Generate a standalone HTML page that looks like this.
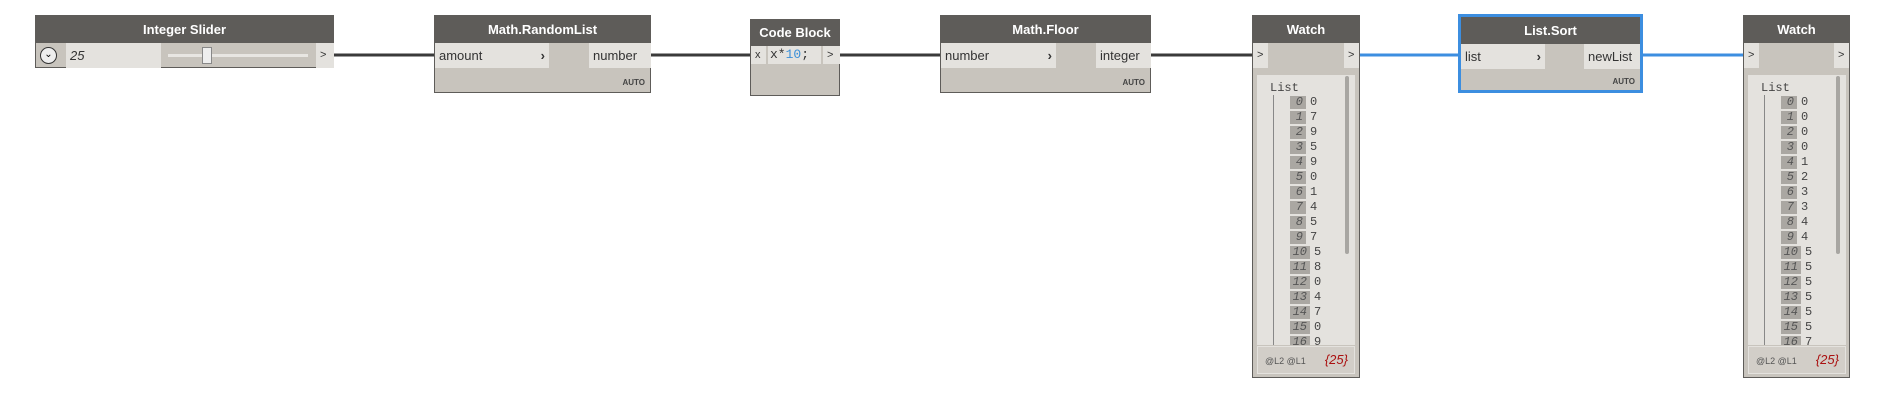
<!DOCTYPE html>
<html><head><meta charset="utf-8"><style>
*{box-sizing:border-box;margin:0;padding:0}
body{width:1886px;height:418px;background:#fff;position:relative;overflow:hidden;font-family:"Liberation Sans",sans-serif}
.node{position:absolute;background:#c8c4bd;border:1px solid #5e5c59}
.hdr{position:absolute;left:0;right:0;top:0;background:#5e5c59;color:#fff;font-weight:bold;font-size:13px;text-align:center}
.box{position:absolute;background:#e4e2de;color:#333;font-size:13px;line-height:25px;padding-left:4px}
.auto{position:absolute;right:5px;font-size:8px;font-weight:bold;color:#444}
.mono{font-family:"Liberation Mono",monospace}
.lp{position:absolute;background:#e4e2de}
.row{position:absolute;font-family:"Liberation Mono",monospace;font-size:12px;color:#444;height:13px;line-height:13px}
.idx{position:absolute;background:#aaa7a2;color:#555;font-style:italic;text-align:right;padding-right:3px;height:13px}
</style></head><body>
<svg style="position:absolute;left:0;top:0" width="1886" height="418">
<g stroke="#3a3a3a" stroke-width="3">
<line x1="334" y1="55" x2="434" y2="55"/>
<line x1="651" y1="55" x2="750" y2="55"/>
<line x1="839" y1="55" x2="940" y2="55"/>
<line x1="1151" y1="55" x2="1252" y2="55"/>
</g>
<g stroke="#3c8ee0" stroke-width="3">
<line x1="1360" y1="55" x2="1460" y2="55"/>
<line x1="1643" y1="55" x2="1743" y2="55"/>
</g>
</svg>

<div class="node" style="left:35px;top:15px;width:299px;height:53px">
<div class="hdr" style="height:27px;line-height:27px">Integer Slider</div>
<div style="position:absolute;left:4px;top:31px;width:17px;height:17px;border:1.5px solid #333;border-radius:50%;background:#eee;font-size:10px;text-align:center;line-height:14px">⌄</div>
<div class="box" style="left:30px;top:27px;width:95px;height:25px;font-style:italic">25</div>
<div style="position:absolute;left:132px;top:38px;width:140px;height:3px;background:#e8e6e2"></div>
<div style="position:absolute;left:166px;top:31px;width:10px;height:17px;background:#eee;border:1px solid #888"></div>
<div class="box" style="left:280px;top:27px;width:18px;height:25px;font-size:11px">&gt;</div>
</div>

<div class="node" style="left:434px;top:15px;width:217px;height:78px">
<div class="hdr" style="height:27px;line-height:27px">Math.RandomList</div>
<div class="box" style="left:0;top:27px;width:114px;height:25px">amount<span style="position:absolute;right:4px;font-weight:bold">›</span></div>
<div class="box" style="left:154px;top:27px;width:62px;height:25px">number</div>
<div class="auto" style="top:62px">AUTO</div>
</div>

<div class="node" style="left:750px;top:19px;width:90px;height:77px">
<div class="hdr" style="height:26px;line-height:26px">Code Block</div>
<div class="box" style="left:0;top:26px;width:15px;height:18px;line-height:18px;font-size:11px;padding-left:4px">x</div>
<div class="box mono" style="left:17px;top:26px;width:53px;height:18px;line-height:18px;font-size:13px;padding-left:2px">x*<span style="color:#3b8fd8">10</span>;</div>
<div class="box" style="left:72px;top:26px;width:17px;height:18px;line-height:18px;font-size:11px">&gt;</div>
</div>

<div class="node" style="left:940px;top:15px;width:211px;height:78px">
<div class="hdr" style="height:27px;line-height:27px">Math.Floor</div>
<div class="box" style="left:0;top:27px;width:115px;height:25px">number<span style="position:absolute;right:4px;font-weight:bold">›</span></div>
<div class="box" style="left:155px;top:27px;width:55px;height:25px">integer</div>
<div class="auto" style="top:62px">AUTO</div>
</div>

<div class="node" style="left:1458px;top:14px;width:185px;height:79px;border:3px solid #3c8ee0">
<div class="hdr" style="height:27px;line-height:27px">List.Sort</div>
<div class="box" style="left:0;top:27px;width:84px;height:25px">list<span style="position:absolute;right:4px;font-weight:bold">›</span></div>
<div class="box" style="left:123px;top:27px;width:56px;height:25px">newList</div>
<div class="auto" style="top:60px">AUTO</div>
</div>

<div id="w1" class="node" style="left:1252px;top:15px;width:108px;height:363px"></div>
<div id="w2" class="node" style="left:1743px;top:15px;width:107px;height:363px"></div>

<script>
const unsortedValues=[0,7,9,5,9,0,1,4,5,7,5,8,0,4,7,0,9];
const sortedValues=[0,0,0,0,1,2,3,3,4,4,5,5,5,5,5,5,7];
function build(id,vals){
  const n=document.getElementById(id);
  let h='<div class="hdr" style="height:27px;line-height:27px">Watch</div>';
  h+='<div class="box" style="left:0;top:27px;width:15px;height:25px;font-size:11px">&gt;</div>';
  h+='<div class="box" style="right:0;top:27px;width:15px;height:25px;font-size:11px">&gt;</div>';
  h+='<div class="lp" style="left:4px;top:59px;width:98px;height:270px;overflow:hidden">';
  h+='<div class="row" style="left:13px;top:7px">List</div>';
  h+='<div style="position:absolute;left:16px;top:20px;width:1px;height:250px;background:#888"></div>';
  h+='<div style="position:absolute;left:88px;top:1px;width:4px;height:178px;background:#a8a6a2;border-radius:2px"></div>';
  vals.forEach((v,i)=>{
    const y=21+i*15, w=i<10?16:20;
    h+='<div class="row" style="left:33px;top:'+y+'px"><span class="idx" style="left:0;width:'+w+'px">'+i+'</span><span style="position:absolute;left:'+(w+4)+'px">'+v+'</span></div>';
  });
  h+='</div>';
  h+='<div class="lp" style="left:4px;top:330px;width:98px;height:28px;background:#d2cec8;border:1px solid #e4e2de"><span style="position:absolute;left:7px;top:9px;font-size:9px;color:#555">@L2 @L1</span><span style="position:absolute;right:6px;top:5px;font-size:13px;font-style:italic;color:#a11">{25}</span></div>';
  n.innerHTML=h;
}
build('w1',unsortedValues);
build('w2',sortedValues);
</script>
</body></html>
